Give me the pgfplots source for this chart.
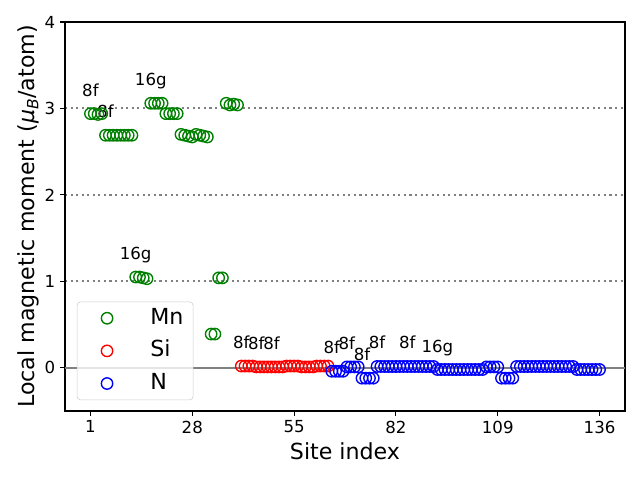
\documentclass[border=0pt]{standalone}
\usepackage{fontspec}
\setmainfont{DejaVu Sans}
\usepackage{pgfplots}
\pgfplotsset{compat=1.18}
\definecolor{mplgreen}{HTML}{008000}
\definecolor{mplred}{HTML}{FF0000}
\definecolor{mplblue}{HTML}{0000FF}

\newcommand{\lab}[3]{\node[font=\fontsize{12}{14}\selectfont, anchor=base, inner sep=0pt] at (axis cs:#1,#2) {#3};}

\begin{document}
\begin{tikzpicture}
\begin{axis}[
    scale only axis,
    width=403.2bp, height=280.08bp,
    xmin=-5.75, xmax=142.75, ymin=-0.5, ymax=4,
    xtick={1,28,55,82,109,136}, ytick={0,1,2,3,4},
    tick align=outside, tick pos=left,
    major tick length=3.5bp,
    every tick/.style={black, line width=0.8bp},
    axis line style={line width=0.8bp},
    ymajorgrids,
    grid style={gray, line width=1.5bp, dash pattern=on 1.5bp off 2.5bp},
    /pgf/number format/assume math mode=true,
    tick label style={font=\fontsize{12}{14}\selectfont},
    xlabel={Site index},
    ylabel={Local magnetic moment (\textit{μ}\textsubscript{\textit{B}}/atom)},
    label style={font=\fontsize{16}{19}\selectfont},
    ylabel shift=-3bp,
    legend style={at={(0.021,0.028)}, anchor=south west,
        draw=black!20, rounded corners=2.5bp, fill=white, fill opacity=0.8, text opacity=1,
        font=\fontsize{16}{19}\selectfont, row sep=4bp,
        nodes={inner xsep=4bp, inner ysep=2bp, text height=12bp, text depth=3.5bp}},
    legend cell align=left,
    every axis plot/.append style={only marks, mark=o, mark size=4.1bp, mark options={line width=1bp},
        legend image code/.code={\path (0cm,0cm) (1.6cm,0cm); \draw[#1] plot coordinates {(0.65cm,0cm)};}},
]
\addplot[gray, no marks, sharp plot, line width=1.1bp, forget plot] coordinates {(-5.75,0) (142.75,0)};

% Mn
\addplot[mplgreen] coordinates {
(1,2.94)(2,2.94)(3,2.93)(4,2.94)
(5,2.69)(6,2.69)(7,2.69)(8,2.69)(9,2.69)(10,2.69)(11,2.69)(12,2.69)
(13,1.05)(14,1.05)(15,1.04)(16,1.03)
(17,3.06)(18,3.06)(19,3.06)(20,3.06)
(21,2.94)(22,2.94)(23,2.94)(24,2.94)
(25,2.70)(26,2.69)(27,2.68)(28,2.67)(29,2.70)(30,2.69)(31,2.68)(32,2.67)
(33,0.39)(34,0.39)
(35,1.04)(36,1.04)
(37,3.06)(38,3.04)(39,3.05)(40,3.04)
};
\addlegendentry{Mn}

% Si
\addplot[mplred] coordinates {
(41,0.02)(42,0.02)(43,0.02)(44,0.02)
(45,0.01)(46,0.01)(47,0.01)(48,0.01)
(49,0.01)(50,0.01)(51,0.01)(52,0.01)
(53,0.02)(54,0.02)(55,0.02)(56,0.02)
(57,0.01)(58,0.01)(59,0.01)(60,0.01)
(61,0.02)(62,0.02)(63,0.02)(64,0.02)
};
\addlegendentry{Si}

% N
\addplot[mplblue] coordinates {
(65,-0.04)(66,-0.04)(67,-0.04)(68,-0.04)
(69,0.01)(70,0.01)(71,0.01)(72,0.01)
(73,-0.12)(74,-0.12)(75,-0.12)(76,-0.12)
(77,0.015)(78,0.015)(79,0.015)(80,0.015)(81,0.015)(82,0.015)(83,0.015)(84,0.015)
(85,0.015)(86,0.015)(87,0.015)(88,0.015)(89,0.015)(90,0.015)(91,0.015)(92,0.015)
(93,-0.02)(94,-0.02)(95,-0.02)(96,-0.02)(97,-0.02)(98,-0.02)(99,-0.02)
(100,-0.02)(101,-0.02)(102,-0.02)(103,-0.02)(104,-0.02)(105,-0.02)
(106,0.01)(107,0.01)(108,0.01)(109,0.01)
(110,-0.12)(111,-0.12)(112,-0.12)(113,-0.12)
(114,0.015)(115,0.015)(116,0.015)(117,0.015)(118,0.015)(119,0.015)(120,0.015)(121,0.015)
(122,0.015)(123,0.015)(124,0.015)(125,0.015)(126,0.015)(127,0.015)(128,0.015)(129,0.015)
(130,-0.02)(131,-0.02)(132,-0.02)(133,-0.02)(134,-0.02)(135,-0.02)(136,-0.02)
};
\addlegendentry{N}

\lab{1}{3.14}{8f}
\lab{5}{2.89}{8f}
\lab{17}{3.26}{16g}
\lab{13}{1.25}{16g}
\lab{41}{0.22}{8f}
\lab{45}{0.21}{8f}
\lab{49}{0.21}{8f}
\lab{65}{0.16}{8f}
\lab{69}{0.21}{8f}
\lab{73}{0.08}{8f}
\lab{77}{0.22}{8f}
\lab{85}{0.22}{8f}
\lab{93}{0.18}{16g}
\end{axis}
\path[use as bounding box] (-46.8bp,-49.68bp) rectangle (414bp,295.92bp);
\end{tikzpicture}
\end{document}
